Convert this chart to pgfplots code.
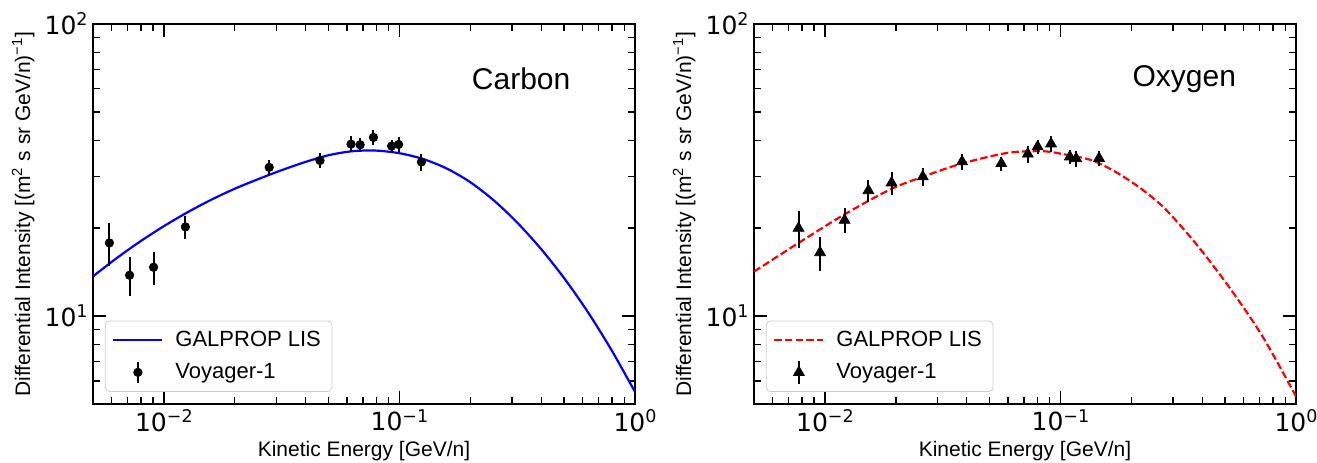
\documentclass[border=0pt]{standalone}
\usepackage{fontspec}
\setmainfont{Liberation Sans}
\newfontfamily\dejavu{DejaVu Sans}
\usepackage{pgfplots}
\usepackage{pgfplotstable}
\pgfplotsset{compat=1.18}

\newcommand\tsup[1]{\raisebox{0.35em}{\fontsize{8.75}{9}\selectfont #1}}

% Voyager-1 carbon: energy, intensity, error
\pgfplotstableread{
x y e
0.00587 17.8 3.0
0.00715 13.8 2.1
0.00904 14.7 1.9
0.01234 20.2 1.8
0.0280 32.3 2.0
0.0460 34.1 2.0
0.0623 38.8 2.4
0.0681 38.6 2.2
0.0776 40.9 2.5
0.0926 38.2 2.0
0.0992 38.7 2.2
0.124 33.7 2.2
}\carbondata

% GALPROP LIS, carbon
\pgfplotstableread{
x y
0.005012 13.70
0.00631 15.80
0.00794 18.02
0.01 20.32
0.01259 22.66
0.01585 25.00
0.01995 27.27
0.02512 29.43
0.03162 31.59
0.03981 33.69
0.05012 35.56
0.0631 36.68
0.07943 36.87
0.1 36.11
0.1259 34.51
0.1585 32.03
0.1995 28.77
0.2512 24.92
0.3162 20.90
0.3981 17.02
0.5012 13.46
0.631 10.32
0.7943 7.66
1.0 5.50
}\carboncurve

% Voyager-1 oxygen
\pgfplotstableread{
x y e
0.00773 20.0 2.9
0.00954 16.5 2.2
0.01212 21.3 2.1
0.01530 26.9 2.3
0.01919 28.6 2.6
0.02603 30.0 2.2
0.03822 33.8 2.2
0.0561 33.3 1.8
0.0727 35.9 2.4
0.0800 38.0 2.2
0.0912 38.9 2.3
0.1096 35.1 2.0
0.1166 34.6 2.1
0.1458 34.7 2.1
}\oxygendata

% GALPROP LIS, oxygen
\pgfplotstableread{
x y
0.005 14.2
0.00773 17.8
0.01212 22.3
0.01887 27.1
0.02603 30.0
0.03822 33.3
0.0595 36.2
0.0826 36.7
0.0999 36.0
0.1394 33.9
0.194 29.3
0.2692 23.9
0.3737 17.8
0.519 12.6
0.7205 8.53
1.0 5.31
}\oxygencurve

\pgfplotsset{
  every axis/.append style={
    xmode=log, ymode=log,
    scale only axis, width=271pt, height=190pt,
    xmin=0.005, xmax=1, ymin=5, ymax=100,
    xtick={0.01,0.1,1},
    xticklabels={10\tsup{−2},10\tsup{−1},10\tsup{0}},
    ytick={10,100},
    yticklabels={10\tsup{1},10\tsup{2}},
    minor xtick={0.005,0.006,0.007,0.008,0.009,0.02,0.03,0.04,0.05,0.06,0.07,0.08,0.09,0.2,0.3,0.4,0.5,0.6,0.7,0.8,0.9},
    minor ytick={6,7,8,9,20,30,40,50,60,70,80,90},
    tick align=inside,
    major tick length=6.5pt, minor tick length=3.5pt,
    every major tick/.append style={black, line width=0.9pt},
    every minor tick/.append style={black, line width=0.7pt},
    axis line style={line width=1pt},
    tick label style={font=\dejavu\fontsize{12.5}{14}\selectfont},
    xticklabel style={inner sep=2.5pt},
    yticklabel style={inner sep=2.5pt},
    xlabel={Kinetic Energy [GeV/n]},
    ylabel={Differential Intensity [(m\textsuperscript{2} s sr GeV/n)\textsuperscript{−1}]},
    label style={font=\fontsize{10.5}{12}\selectfont},
    xlabel style={at={(axis description cs:0.5,-0.137)}, anchor=base},
    ylabel style={at={(axis description cs:-0.129,0.5)}, anchor=center},
    legend cell align=left,
    legend style={at={(0.022,0.032)}, anchor=south west, draw=black!20,
      rounded corners=2pt, font=\fontsize{11}{13}\selectfont,
      row sep=3pt, inner xsep=3.5pt, inner ysep=3pt},
  }
}

\begin{document}
\begin{tikzpicture}
\begin{axis}[at={(46.5pt,29pt)}, anchor=south west]
  \addplot[blue, line width=1.1pt, smooth,
    legend image code/.code={\draw[blue, line width=1.1pt] (0cm,0cm) -- (0.86cm,0cm);
      \path (1.0cm,0cm);}]
    table {\carboncurve};
  \addlegendentry{GALPROP LIS}
  \addplot[black, only marks, mark=*, mark size=2.1pt,
    legend image code/.code={\draw[black, line width=1pt] (0.43cm,-0.19cm) -- (0.43cm,0.19cm);
      \draw[black, mark size=2.1pt] plot[mark=*] coordinates {(0.43cm,0cm)};
      \path (1.0cm,0cm);},
    error bars/.cd, y dir=both, y explicit, error mark=none,
    error bar style={line width=1pt, black}]
    table[x=x, y=y, y error=e] {\carbondata};
  \addlegendentry{Voyager-1}
  \node[font=\fontsize{15}{18}\selectfont] at (axis description cs:0.79,0.855) {Carbon};
\end{axis}
\begin{axis}[at={(377pt,29pt)}, anchor=south west]
  \addplot[red, line width=1.1pt, smooth, dash pattern=on 3.7pt off 1.6pt,
    legend image code/.code={\draw[red, line width=1.1pt, dash pattern=on 3.7pt off 1.6pt] (0cm,0cm) -- (0.86cm,0cm);
      \path (1.0cm,0cm);}]
    table {\oxygencurve};
  \addlegendentry{GALPROP LIS}
  \addplot[black, only marks, mark=triangle*, mark size=3.1pt,
    legend image code/.code={\draw[black, line width=1pt] (0.43cm,-0.2cm) -- (0.43cm,0.2cm);
      \draw[black, mark size=3.1pt] plot[mark=triangle*] coordinates {(0.43cm,0cm)};
      \path (1.0cm,0cm);},
    error bars/.cd, y dir=both, y explicit, error mark=none,
    error bar style={line width=1pt, black}]
    table[x=x, y=y, y error=e] {\oxygendata};
  \addlegendentry{Voyager-1}
  \node[font=\fontsize{15}{18}\selectfont] at (axis description cs:0.794,0.855) {Oxygen};
\end{axis}
\pgfresetboundingbox
\path[use as bounding box] (0,0) rectangle (658.5pt,231pt);
\end{tikzpicture}
\end{document}
